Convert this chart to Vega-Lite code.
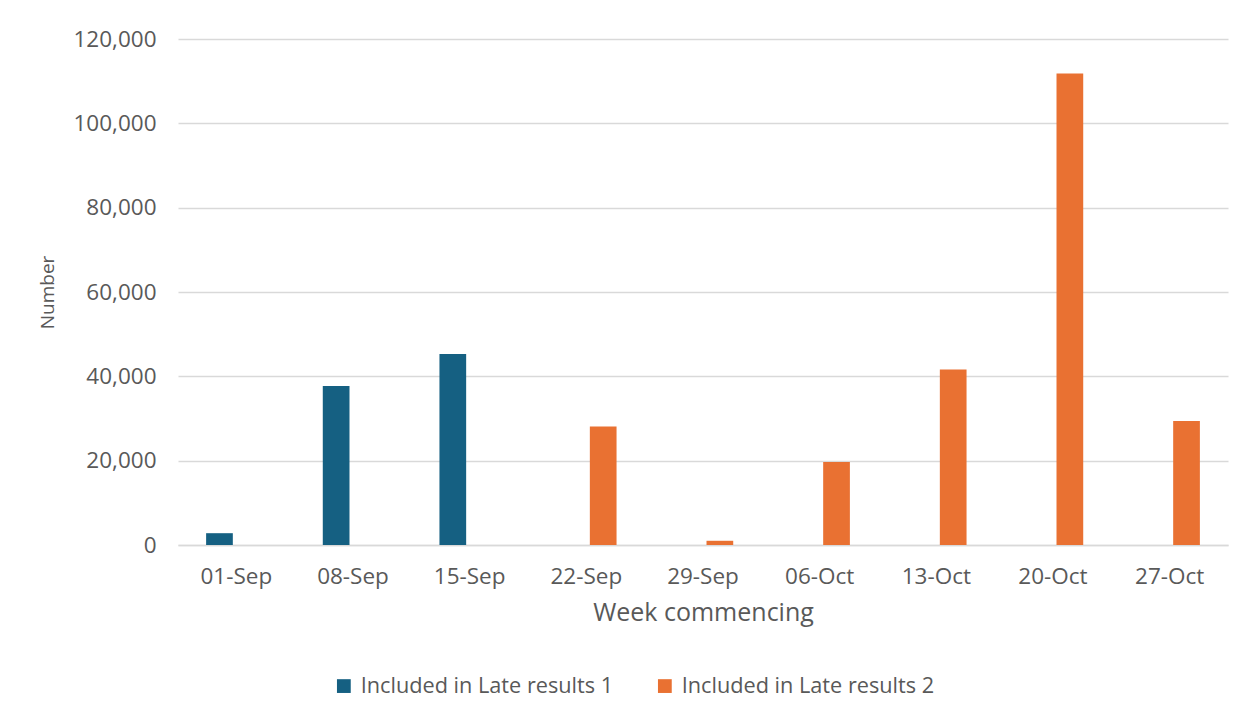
{
  "$schema": "https://vega.github.io/schema/vega-lite/v6.json",
  "width": 1050,
  "height": 506,
  "autosize": {"type": "none"},
  "padding": {"left": 178, "top": 39, "right": 20, "bottom": 173},
  "background": "white",
  "config": {
    "view": {"stroke": null},
    "font": "Open Sans"
  },
  "data": {
    "values": [
      {"week": "01-Sep", "series": "Included in Late results 1", "value": 2800},
      {"week": "08-Sep", "series": "Included in Late results 1", "value": 37700},
      {"week": "15-Sep", "series": "Included in Late results 1", "value": 45300},
      {"week": "22-Sep", "series": "Included in Late results 2", "value": 28100},
      {"week": "29-Sep", "series": "Included in Late results 2", "value": 1000},
      {"week": "06-Oct", "series": "Included in Late results 2", "value": 19700},
      {"week": "13-Oct", "series": "Included in Late results 2", "value": 41600},
      {"week": "20-Oct", "series": "Included in Late results 2", "value": 111800},
      {"week": "27-Oct", "series": "Included in Late results 2", "value": 29400}
    ]
  },
  "mark": {"type": "bar"},
  "encoding": {
    "x": {
      "field": "week",
      "type": "nominal",
      "sort": null,
      "scale": {"paddingInner": 0.482, "paddingOuter": 0.241},
      "axis": {
        "title": "Week commencing",
        "labelAngle": 0,
        "labelFontSize": 22.5,
        "labelColor": "#595959",
        "labelPadding": 20,
        "ticks": false,
        "tickSize": 0,
        "domainColor": "#d9d9d9",
        "domainWidth": 1.5,
        "titleFontSize": 25,
        "titleFontWeight": "normal",
        "titleColor": "#595959",
        "titlePadding": 13
      }
    },
    "xOffset": {
      "field": "series",
      "type": "nominal",
      "scale": {"domain": ["Included in Late results 1", "Included in Late results 2"], "paddingInner": 0.208, "paddingOuter": 0}
    },
    "y": {
      "field": "value",
      "type": "quantitative",
      "scale": {"domain": [0, 120000], "nice": false},
      "axis": {
        "title": "Number",
        "values": [0, 20000, 40000, 60000, 80000, 100000, 120000],
        "format": ",d",
        "labelFontSize": 22.5,
        "labelColor": "#595959",
        "labelPadding": 22,
        "ticks": false,
        "tickSize": 0,
        "domain": false,
        "gridColor": "#d9d9d9",
        "gridWidth": 1.5,
        "titleFontSize": 19,
        "titleFontWeight": "normal",
        "titleColor": "#595959",
        "titlePadding": 15
      }
    },
    "color": {
      "field": "series",
      "type": "nominal",
      "scale": {"domain": ["Included in Late results 1", "Included in Late results 2"], "range": ["#156082", "#E97132"]},
      "legend": {
        "title": null,
        "orient": "none",
        "direction": "horizontal",
        "legendX": 155,
        "legendY": 636,
        "symbolType": "square",
        "symbolSize": 190,
        "symbolStrokeWidth": 0,
        "labelFontSize": 21.7,
        "labelLimit": 0,
        "labelColor": "#595959",
        "labelOffset": 6,
        "columnPadding": 40
      }
    }
  }
}
